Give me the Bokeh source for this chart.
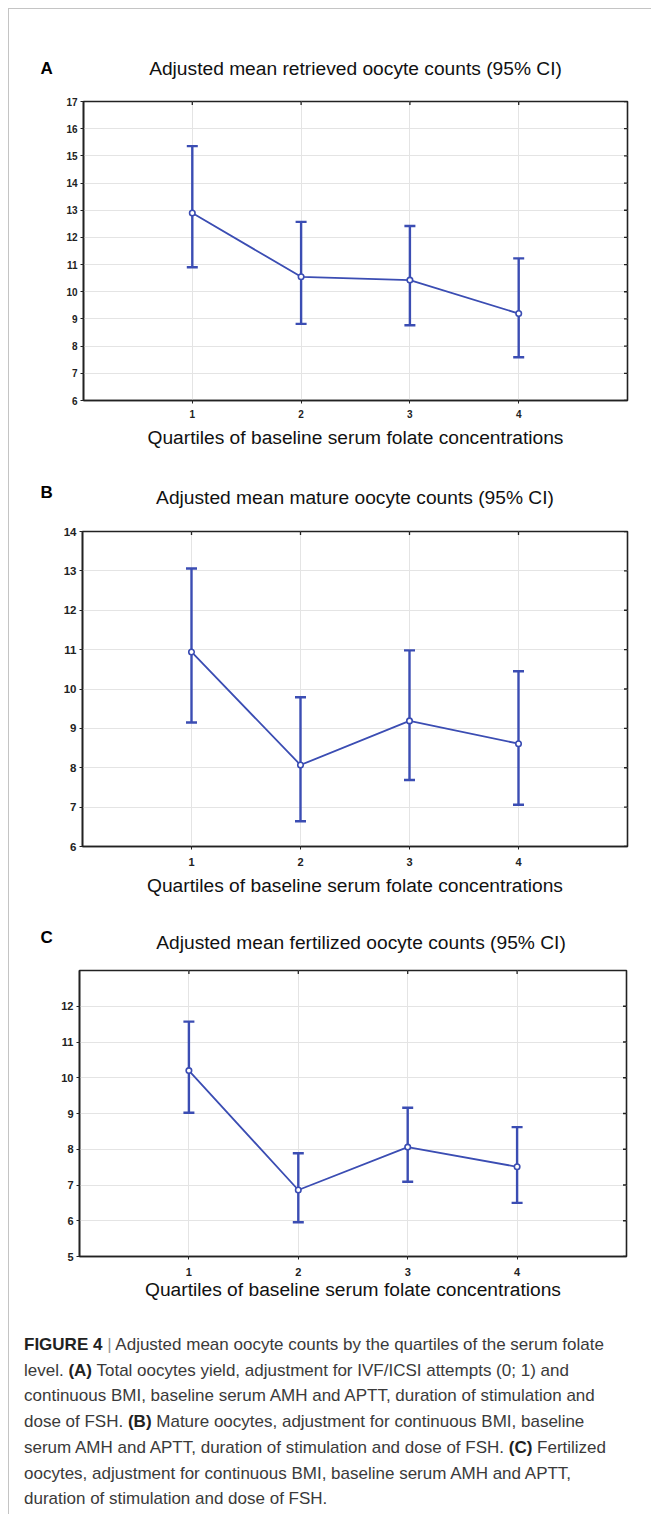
import math
from bokeh.plotting import figure
from bokeh.models import (ColumnDataSource, Whisker, FixedTicker, Label, Div, TeeHead)
from bokeh.layouts import column
from bokeh.embed import file_html
from bokeh.resources import INLINE

# ---------------- data ----------------
quartiles = [1, 2, 3, 4]
quartile_labels = ["1", "2", "3", "4"]

A_mean = [12.90, 10.55, 10.43, 9.20]
A_lower = [10.90, 8.82, 8.77, 7.59]
A_upper = [15.36, 12.57, 12.42, 11.23]

B_mean = [10.94, 8.07, 9.19, 8.61]
B_lower = [9.15, 6.64, 7.69, 7.06]
B_upper = [13.06, 9.79, 10.98, 10.45]

C_mean = [10.20, 6.86, 8.06, 7.51]
C_lower = [9.02, 5.96, 7.09, 6.50]
C_upper = [11.57, 7.89, 9.16, 8.62]

A_yticks = list(range(6, 18))
B_yticks = list(range(6, 15))
C_yticks = list(range(5, 13))

titles = ["Adjusted mean retrieved oocyte counts (95% CI)",
          "Adjusted mean mature oocyte counts (95% CI)",
          "Adjusted mean fertilized oocyte counts (95% CI)"]
letters = ["A", "B", "C"]
xlabel = "Quartiles of baseline serum folate concentrations"

BLUE = "#3b4db3"
FONT = "Liberation Sans"
W = 642


def make_header(letter, title, height, letter_y, title_x, title_y, title_size):
    h = figure(width=W, height=height, x_range=(0, W), y_range=(height, 0),
               x_axis_type=None, y_axis_type=None, output_backend="svg",
               toolbar_location=None, min_border=0, min_border_left=0,
               min_border_right=0, min_border_top=0, min_border_bottom=0,
               frame_align=False)
    h.outline_line_color = None
    h.grid.visible = False
    h.background_fill_color = "white"
    h.border_fill_color = "white"
    h.add_layout(Label(x=31, y=letter_y, text=letter, text_font=FONT,
                       text_font_style="bold", text_font_size="17px",
                       text_color="#000000", text_baseline="middle", text_align="left"))
    h.add_layout(Label(x=title_x, y=title_y, text=title, text_font=FONT,
                       text_font_size=title_size, text_color="#111111",
                       text_baseline="middle", text_align="center"))
    return h


def make_panel(mean, lower, upper, yticks, yrange, height, borders,
               tick_size, xtick_size, xlabel_size, xtick_standoff, xlabel_standoff):
    p = figure(width=W, height=height, x_range=(0, 5), y_range=yrange,
               output_backend="svg", toolbar_location=None, frame_align=False,
               min_border_left=borders[0], min_border_right=borders[1],
               min_border_top=borders[2], min_border_bottom=borders[3])
    p.background_fill_color = "white"
    p.border_fill_color = "white"
    p.outline_line_color = "#222222"
    p.outline_line_width = 1.6

    p.xgrid.ticker = FixedTicker(ticks=quartiles)
    p.ygrid.ticker = FixedTicker(ticks=yticks)
    p.xgrid.grid_line_color = "#e4e4e4"
    p.ygrid.grid_line_color = "#e4e4e4"

    xa = p.xaxis[0]
    xa.ticker = FixedTicker(ticks=quartiles)
    xa.major_label_overrides = {q: l for q, l in zip(quartiles, quartile_labels)}
    xa.axis_label = xlabel
    xa.axis_label_text_font = FONT
    xa.axis_label_text_font_style = "normal"
    xa.axis_label_text_font_size = xlabel_size
    xa.axis_label_text_color = "#111111"
    xa.axis_label_standoff = xlabel_standoff
    ya = p.yaxis[0]
    ya.ticker = FixedTicker(ticks=yticks)
    for ax in (xa, ya):
        ax.axis_line_color = "#222222"
        ax.axis_line_width = 1.6
        ax.major_tick_out = 3
        ax.major_tick_in = 0
        ax.minor_tick_out = 0
        ax.minor_tick_in = 0
        ax.major_tick_line_color = "#222222"
        ax.major_label_text_font = FONT
        ax.major_label_text_font_style = "bold"
        ax.major_label_text_color = "#222222"
    ya.major_label_text_font_size = tick_size
    ya.major_label_standoff = 3
    xa.major_label_text_font_size = xtick_size
    xa.major_label_standoff = xtick_standoff

    # small inner tick marks on the top and right frame edges (half clipped by the frame)
    p.scatter(quartiles, [yrange[1]] * len(quartiles), marker="dash", size=7,
              angle=math.pi / 2, line_color="#222222", line_width=1.3)
    p.scatter([5] * len(yticks), yticks, marker="dash", size=7,
              line_color="#222222", line_width=1.3)

    src = ColumnDataSource(dict(x=quartiles, mean=mean, lower=lower, upper=upper))
    w = Whisker(base="x", lower="lower", upper="upper", source=src,
                line_color=BLUE, line_width=2.4,
                upper_head=TeeHead(size=11, line_color=BLUE, line_width=2.4),
                lower_head=TeeHead(size=11, line_color=BLUE, line_width=2.4))
    p.add_layout(w)
    p.line("x", "mean", source=src, line_color=BLUE, line_width=1.8)
    p.scatter("x", "mean", source=src, size=5.5, marker="circle",
              line_color=BLUE, fill_color="white", line_width=1.6)
    return p


hA = make_header("A", titles[0], 76, 59, 346, 59, "19.2px")
pA = make_panel(A_mean, A_lower, A_upper, A_yticks, (6, 17), 370,
                (74, 24, 16, 55), "10px", "10px", "19.2px", 6, 6)
hB = make_header("B", titles[1], 60, 37, 345.5, 42, "19.2px")
pB = make_panel(B_mean, B_lower, B_upper, B_yticks, (6, 14), 395,
                (73, 24, 16, 64), "11.5px", "11px", "19.2px", 8, 6)
hC = make_header("C", titles[2], 45, 27, 351.5, 32, "19.2px")
pC = make_panel(C_mean, C_lower, C_upper, C_yticks, (5, 13), 365,
                (70, 25, 15, 64), "11px", "11px", "19.2px", 8, 0)

caption_html = (
    '<div style="font-family: \'Liberation Sans\', Arial, sans-serif; font-size: 17px; '
    'line-height: 25.7px; color: #3a3a3a; white-space: nowrap; padding: 7px 0 0 10px;">'
    '<b style="color:#222">FIGURE 4</b> <span style="color:#999">|</span> Adjusted mean oocyte counts by the quartiles of the serum folate<br>'
    'level. <b style="color:#222">(A)</b> Total oocytes yield, adjustment for IVF/ICSI attempts (0; 1) and<br>'
    'continuous BMI, baseline serum AMH and APTT, duration of stimulation and<br>'
    'dose of FSH. <b style="color:#222">(B)</b> Mature oocytes, adjustment for continuous BMI, baseline<br>'
    'serum AMH and APTT, duration of stimulation and dose of FSH. <b style="color:#222">(C)</b> Fertilized<br>'
    'oocytes, adjustment for continuous BMI, baseline serum AMH and APTT,<br>'
    'duration of stimulation and dose of FSH.'
    '</div>'
)
cap = Div(text=caption_html, width=W, height=185)

layout = column(hA, pA, hB, pB, hC, pC, cap, spacing=0, margin=(8, 0, 0, 8),
                styles={"border-top": "1px solid #c4c4c4", "border-left": "1px solid #c4c4c4"})

open("out.html", "w").write(file_html(layout, INLINE))
